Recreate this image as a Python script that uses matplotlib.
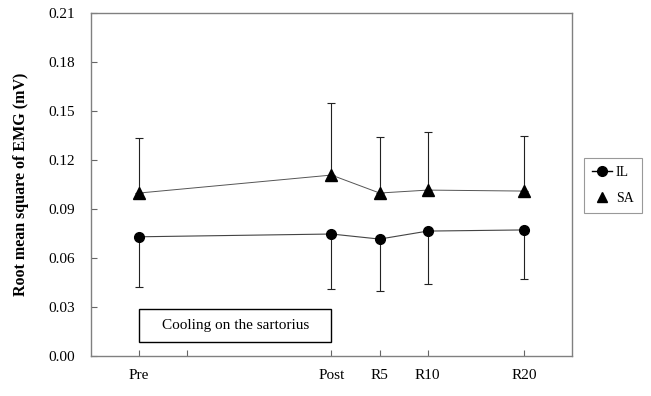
import matplotlib
matplotlib.use("Agg")
import matplotlib.pyplot as plt
from matplotlib.lines import Line2D
from matplotlib.patches import Rectangle

# data
labels = ["Pre", "", "Post", "R5", "R10", "R20"]
tick_pos = [1, 2, 5, 6, 7, 9]
x_pos = [1, 5, 6, 7, 9]

il_mean = [0.0730, 0.0747, 0.0716, 0.0765, 0.0772]
il_low = [0.0423, 0.0410, 0.0398, 0.0441, 0.0472]
sa_mean = [0.0998, 0.1108, 0.0998, 0.1016, 0.1010]
sa_high = [0.1335, 0.1550, 0.1340, 0.1370, 0.1350]

plt.rcParams['font.family'] = ['Liberation Serif', 'DejaVu Serif']

fig = plt.figure(figsize=(6.51, 3.96), dpi=100)
ax = fig.add_axes([0.1398, 0.101, 0.7388, 0.866])

il_err = [[m - l for m, l in zip(il_mean, il_low)], [0] * len(il_mean)]
sa_err = [[0] * len(sa_mean), [h - m for m, h in zip(sa_mean, sa_high)]]

ax.errorbar(x_pos, il_mean, yerr=il_err, fmt='none', ecolor='#222222',
            elinewidth=0.8, capsize=3, capthick=0.8)
ax.errorbar(x_pos, sa_mean, yerr=sa_err, fmt='none', ecolor='#222222',
            elinewidth=0.8, capsize=3, capthick=0.8)
ax.plot(x_pos, il_mean, color='#444444', lw=0.8, marker='o', ms=7,
        mfc='black', mec='black')
ax.plot(x_pos, sa_mean, color='#555555', lw=0.7, marker='^', ms=8,
        mfc='black', mec='black')

# cooling box
ax.add_patch(Rectangle((1, 0.0086), 4, 0.0202, fill=False, ec='black', lw=1.0))
ax.text(3, 0.0187, "Cooling on the sartorius", ha='center', va='center',
        fontsize=11)

ax.set_xlim(0, 10)
ax.set_ylim(0, 0.21)
ax.set_yticks([0.0, 0.03, 0.06, 0.09, 0.12, 0.15, 0.18, 0.21])
ax.set_yticklabels([f"{v:.2f}" for v in ax.get_yticks()])
ax.set_xticks(tick_pos)
ax.set_xticklabels(labels)
ax.tick_params(axis='y', direction='in', length=4, pad=11.5, labelsize=11,
               color='#666666')
ax.tick_params(axis='x', direction='in', length=4, pad=9, labelsize=11,
               color='#666666')
for s in ax.spines.values():
    s.set_color('#808080')
    s.set_linewidth(1.0)

ax.set_ylabel("Root mean square of EMG (mV)", fontsize=11.5, fontweight='bold',
              labelpad=14)

handles = [Line2D([], [], color='black', lw=1, marker='o', ms=7),
           Line2D([], [], color='none', marker='^', ms=7, mfc='black',
                  mec='black')]
leg = fig.legend(handles, ["IL", "SA"], loc='upper left',
                 bbox_to_anchor=(584 / 651, 1 - 158 / 396),
                 frameon=True, fancybox=False, fontsize=10, handlelength=1.4,
                 handletextpad=0.3, borderpad=0.6, labelspacing=0.9,
                 borderaxespad=0)
leg.get_frame().set_edgecolor('#808080')
leg.get_frame().set_linewidth(0.8)

fig.savefig("out.png", dpi=100)
